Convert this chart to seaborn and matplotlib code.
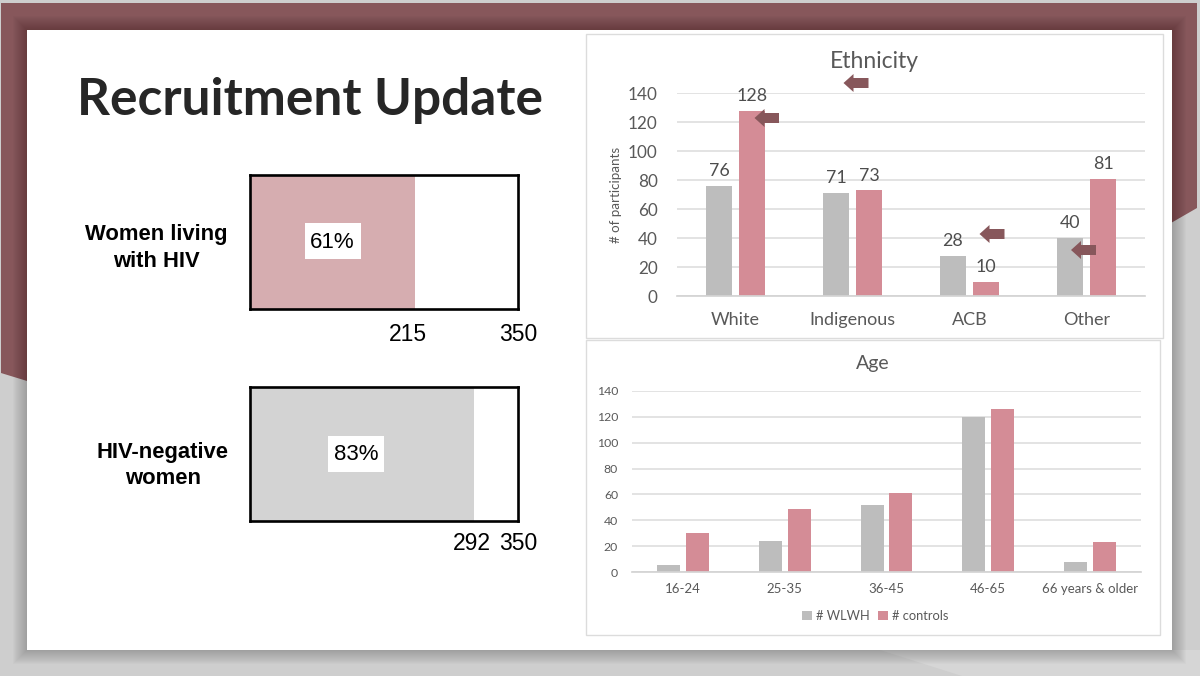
import pandas as pd
import numpy as np
import matplotlib.pyplot as plt
from matplotlib.patches import Polygon, Rectangle
import seaborn as sns

# values
eth_cats = ['White', 'Indigenous', 'ACB', 'Other']
eth_wlwh = [76, 71, 28, 40]
eth_controls = [128, 73, 10, 81]

age_cats = ['16-24', '25-35', '36-45', '46-65', '66 years & older']
age_wlwh = [6, 24, 52, 120, 8]
age_controls = [30, 49, 61, 126, 23]

recruit_groups = ['Women living\nwith HIV', 'HIV-negative\nwomen']
recruit_n = [215, 292]
recruit_pct = ['61%', '83%']
recruit_target = 350

W, H = 1200, 676
GRAY = '#bdbdbd'
PINK = '#d48c96'
MAROON = '#87575b'
TEXT = '#595959'

sns.set_theme(style='white')
plt.rcParams['font.family'] = ['Lato', 'DejaVu Sans']

fig = plt.figure(figsize=(W / 100, H / 100), dpi=100)


def px_axes(x0, y0, x1, y1, **kw):
    # axes from pixel box, y counted from the top
    return fig.add_axes([x0 / W, 1 - y1 / H, (x1 - x0) / W, (y1 - y0) / H], **kw)


def pixel_layer(zorder):
    a = fig.add_axes([0, 0, 1, 1], zorder=zorder)
    a.set_xlim(0, W)
    a.set_ylim(H, 0)
    a.axis('off')
    a.patch.set_alpha(0)
    return a


# slide background
bg = pixel_layer(0)
bg.add_patch(Rectangle((0, 0), W, H, color='#cecece', lw=0))
bg.add_patch(Polygon([(880, 650), (962, 676), (W, 676), (W, 650)], color='#d6d6d6', lw=0))
bg.add_patch(Polygon([(1, 3), (1197, 3), (1197, 208), (1171, 223), (27, 381), (1, 373)],
                     color=MAROON, lw=0))
for i in range(14, 0, -1):
    bg.add_patch(Rectangle((27 - i, 30 - i), 1145 + 2 * i, 620 + 2 * i,
                           color='black', alpha=0.016, lw=0))
bg.add_patch(Rectangle((27, 30), 1145, 620, color='white', lw=0))
bg.add_patch(Rectangle((585.5, 34), 577, 304, fc='white', ec='#dcdcdc', lw=1))
bg.add_patch(Rectangle((585.5, 340), 574, 295, fc='white', ec='#dcdcdc', lw=1))

bg.text(310, 101, 'Recruitment Update', fontsize=37, fontweight='bold',
        color='#262626', ha='center', va='center', family='Lato')


def grouped_bars(ax, cats, wlwh, controls, tick_size, tick_pad_y, legend=False):
    df = pd.DataFrame({
        'cat': cats * 2,
        'n': wlwh + controls,
        'group': ['# WLWH'] * len(cats) + ['# controls'] * len(cats),
    })
    sns.barplot(data=df, x='cat', y='n', hue='group', ax=ax, width=0.567, gap=0.206,
                palette={'# WLWH': GRAY, '# controls': PINK}, saturation=1,
                legend=legend, linewidth=0)
    ax.set_xlim(-0.5, len(cats) - 0.5)
    ax.set_ylim(0, 140)
    ax.set_yticks(np.arange(0, 141, 20))
    ax.set_xlabel('')
    ax.set_ylabel('')
    ax.set_axisbelow(True)
    ax.grid(axis='y', color='#dedede', lw=1.2)
    sns.despine(ax=ax, left=True)
    ax.spines['bottom'].set_color('#d4d4d4')
    ax.tick_params(axis='both', length=0, labelcolor=TEXT, labelsize=tick_size)
    ax.tick_params(axis='y', pad=tick_pad_y)
    ax.patch.set_alpha(0)


# ethnicity panel
ax1 = px_axes(677, 93.3, 1145, 296.3, zorder=2)
grouped_bars(ax1, eth_cats, eth_wlwh, eth_controls, 12.3, 14)
ax1.tick_params(axis='x', pad=11, labelsize=13)
for c in ax1.containers:
    ax1.bar_label(c, fmt='%g', padding=5, fontsize=12.8, color='#4d4d4d')
ax1.set_ylabel('# of participants', fontsize=9.6, color=TEXT, labelpad=4)
bg.text(874, 61, 'Ethnicity', fontsize=16.5, color=TEXT, ha='center', va='center')

# age panel
ax2 = px_axes(632, 390.7, 1141, 572.3, zorder=2)
grouped_bars(ax2, age_cats, age_wlwh, age_controls, 8.8, 10, legend=True)
ax2.tick_params(axis='x', pad=8, labelsize=9.5)
bg.text(873, 364, 'Age', fontsize=14, color=TEXT, ha='center', va='center')
leg = ax2.legend(loc='center', bbox_to_anchor=(875 / W, 1 - 616 / H),
                 bbox_transform=fig.transFigure, ncol=2, frameon=False, fontsize=9.3,
                 handlelength=0.8, handleheight=0.8, handletextpad=0.3, columnspacing=0.6,
                 labelcolor=TEXT)

# recruitment progress bars
boxes = [(250, 174.5, 518, 308.5), (250, 387, 518, 521)]
fills = ['#d6adb0', '#d3d3d3']
for n, col, box in zip(recruit_n, fills, boxes):
    ax = px_axes(*box, zorder=2)
    sns.barplot(x=[n], y=[0], orient='h', ax=ax, color=col, saturation=1, width=1, linewidth=0)
    ax.set_xlim(0, recruit_target)
    ax.set_ylim(-0.5, 0.5)
    ax.set_xticks([])
    ax.set_yticks([])
    for s in ax.spines.values():
        s.set_visible(True)
        s.set_color('black')
        s.set_linewidth(1.9)

top = pixel_layer(5)

label_pos = [(156, 248), (163, 465.5)]
for txt, (x, y) in zip(recruit_groups, label_pos):
    top.text(x, y, txt, fontsize=15.8, fontweight='bold', color='black', ha='center',
             va='center', family='Liberation Sans', linespacing=1.32)

pct_pos = [(332.5, 241), (356, 454)]
for txt, (x, y) in zip(recruit_pct, pct_pos):
    top.text(x, y + 1, txt, fontsize=16, color='black', ha='center', va='center',
             family='Liberation Sans')
    top.add_patch(Rectangle((x - 28, y - 18), 56, 36, color='white', lw=0, zorder=0.5))

end_labels = [(407.5, 334.5, recruit_n[0]), (518.5, 334.5, recruit_target),
              (471.5, 543.5, recruit_n[1]), (518.5, 543.5, recruit_target)]
for x, y, v in end_labels:
    top.text(x, y, str(v), fontsize=16.5, color='black', ha='center', va='center',
             family='Liberation Sans')


def left_arrow(a, x0, x1, y):
    a.add_patch(Polygon([(x0, y), (x0 + 10, y - 9), (x0 + 10, y - 5), (x1, y - 5),
                         (x1, y + 5), (x0 + 10, y + 5), (x0 + 10, y + 9)],
                        color=MAROON, lw=0))


# arrows pasted on top of the ethnicity chart
for x0, x1, y in [(843.5, 868.5, 83), (754.5, 779, 118), (979.5, 1004.5, 234), (1071, 1096, 250)]:
    left_arrow(top, x0, x1, y)

fig.savefig('out.png', dpi=100)
